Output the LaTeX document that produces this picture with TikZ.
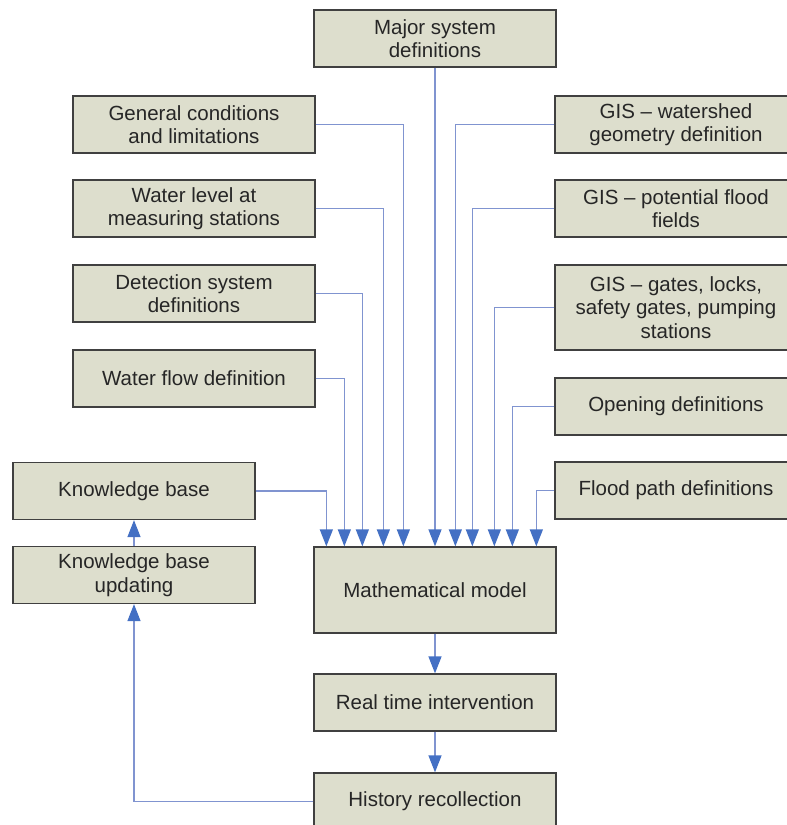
\documentclass[tikz,border=0pt]{standalone}
\usepackage{fontspec}
\setmainfont{Liberation Sans}
\usetikzlibrary{arrows.meta}

\definecolor{boxfill}{RGB}{221,222,205}
\definecolor{boxline}{RGB}{64,64,64}
\definecolor{lineblue}{RGB}{128,148,208}
\definecolor{tipblue}{RGB}{68,112,196}

\begin{document}
\begin{tikzpicture}[x=1pt, y=-1pt,
    block/.style={rectangle, draw=boxline, line width=1.3pt, fill=boxfill,
        minimum width=242pt, minimum height=57pt, align=center,
        text=black!85, font=\fontsize{20.5}{23.5}\selectfont},
    flow/.style={draw=lineblue, line width=1.4pt,
        -{Triangle[width=13pt,length=17pt,color=tipblue]}}]
    \useasboundingbox (0,0) rectangle (787,825);

    % Top input
    \node[block] (major) at (435,38.5) {Major system\\definitions};

    % Inputs on the left
    \node[block] (gen) at (194,124.5) {General conditions\\and limitations};
    \node[block] (wlev) at (194,208.5) {Water level at\\measuring stations};
    \node[block] (detect) at (194,293.5) {Detection system\\definitions};
    \node[block] (wflow) at (194,378.5) {Water flow definition};

    % Inputs on the right (cut at the page edge)
    \node[block] (gisw) at (676,124.5) {GIS -- watershed\\geometry definition};
    \node[block] (gisp) at (676,208.5) {GIS -- potential flood\\fields};
    \node[block, minimum height=85pt] (gisg) at (676,307.5) {GIS -- gates, locks,\\safety gates, pumping\\stations};
    \node[block] (open) at (676,406.5) {Opening definitions};
    \node[block] (flood) at (676,490.5) {Flood path definitions};

    % Knowledge base
    \node[block] (kb) at (134,491) {Knowledge base};
    \node[block] (kbu) at (134,575) {Knowledge base\\updating};

    % Main chain
    \node[block, minimum height=86pt] (math) at (435,590) {Mathematical model};
    \node[block] (rti) at (435,702.5) {Real time intervention};
    \node[block] (hist) at (435,801.5) {History recollection};

    % Arrows into the model
    \foreach \n/\dx in {kb/13, wflow/31, detect/49, wlev/70, gen/90} {
        \draw[flow] (\n.east) -| ([xshift=\dx pt]math.north west);
    }
    \draw[flow] (major) -- (math);
    \foreach \n/\dx in {gisw/142, gisp/159, gisg/181, open/199, flood/223} {
        \draw[flow] (\n.west) -| ([xshift=\dx pt]math.north west);
    }

    % Output and feedback
    \draw[flow] (math) -- (rti);
    \draw[flow] (rti) -- (hist);
    \draw[flow] (hist.west) -| (kbu.south);
    \draw[flow] (kbu) -- (kb);
\end{tikzpicture}
\end{document}
